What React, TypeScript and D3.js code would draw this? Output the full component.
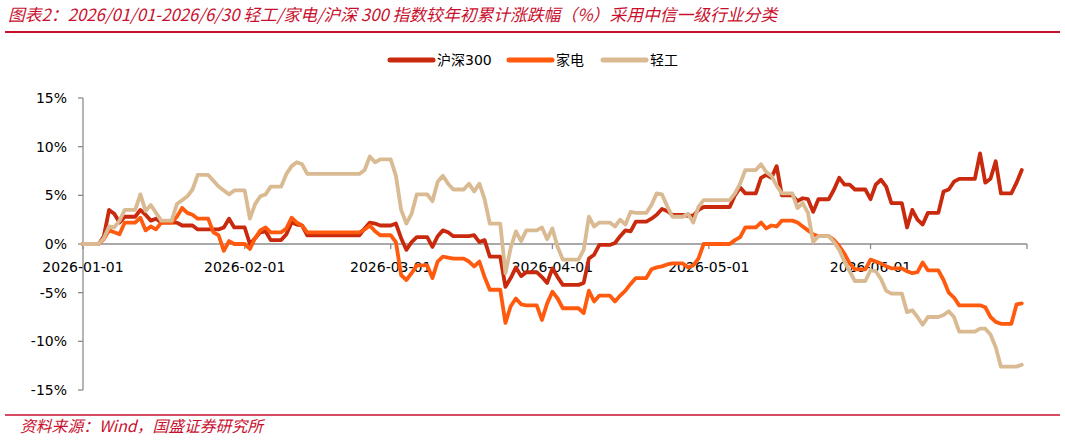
import React from "react";
import * as d3 from "d3";

// Calendar days 2026-01-01 .. 2026-06-30 (non-trading days carry the previous close)
const startDate = new Date(2026, 0, 1);
const endDate = new Date(2026, 6, 1);

const seriesNames = ["沪深300", "家电", "轻工"];
const seriesColors = ["#C9290C", "#FF5A0D", "#D9BA92"];

// 沪深300 cumulative change (%)
const hs300 = [
  // Jan
  0, 0, 0, 0,
  0.8, 3.5, 3.1, 2.2, 2.8, 2.8, 2.8,
  3.5, 3.0, 2.4, 2.6, 2.2, 2.2, 2.2,
  2.2, 1.9, 1.9, 1.9, 1.5, 1.5, 1.5,
  1.5, 1.5, 1.7, 2.6, 1.7, 1.7,
  // Feb
  1.7,
  0.0, 0.6, 1.2, 1.3, 0.4, 0.4, 0.4,
  1.0, 2.2, 2.0, 1.9, 0.9, 0.9, 0.9,
  0.9, 0.9, 0.9, 0.9, 0.9, 0.9, 0.9, 0.9,
  1.6, 2.2, 2.1, 1.9, 1.9,
  // Mar
  1.9,
  2.1, 0.6, -0.6, 0.2, 0.7, 0.7, 0.7,
  -0.3, 0.8, 1.4, 1.2, 0.8, 0.8, 0.8,
  0.8, 0.9, 0.2, 0.4, -1.3, -1.3, -1.3,
  -4.4, -3.5, -2.4, -3.3, -2.9, -2.9, -2.9,
  -3.4, -4.0,
  // Apr
  -2.5, -3.4, -4.2, -4.2, -4.2, -4.2,
  -4.0, -1.5, -1.1, -0.1, -0.1, -0.1,
  0.1, 0.8, 1.4, 1.3, 2.3, 2.3, 2.3,
  2.6, 3.0, 3.6, 3.4, 3.0, 3.0, 3.0,
  2.9, 2.9, 3.5, 3.8,
  // May
  3.8, 3.8, 3.8, 3.8, 3.8,
  5.0, 5.8, 5.2, 5.2, 5.2,
  6.8, 7.1, 6.8, 8.0, 5.0, 5.0, 5.0,
  4.4, 4.7, 4.6, 3.3, 4.6, 4.6, 4.6,
  5.6, 6.8, 6.1, 6.1, 5.6, 5.6, 5.6,
  // Jun
  4.6, 6.1, 6.6, 5.9, 4.2, 4.2, 4.2,
  1.7, 3.5, 2.5, 2.0, 3.2, 3.2, 3.2,
  5.4, 5.6, 6.4, 6.7, 6.7, 6.7, 6.7,
  9.3, 6.3, 6.7, 8.5, 5.2, 5.2, 5.2,
  6.3, 7.6,
];

// 家电 cumulative change (%)
const jiadian = [
  // Jan
  0, 0, 0, 0,
  0.5, 1.4, 1.2, 1.0, 2.2, 2.2, 2.2,
  2.7, 1.4, 1.8, 1.5, 2.2, 2.2, 2.2,
  2.8, 3.7, 3.2, 3.0, 2.6, 2.6, 2.6,
  1.2, 0.9, -0.7, 0.3, 0.0, 0.0,
  // Feb
  0.0,
  -0.5, 0.6, 1.4, 1.7, 1.2, 1.2, 1.2,
  1.6, 2.7, 2.2, 1.9, 1.2, 1.2, 1.2,
  1.2, 1.2, 1.2, 1.2, 1.2, 1.2, 1.2, 1.2,
  1.5, 1.9, 1.3, 0.9, 0.9,
  // Mar
  0.9,
  0.2, -3.2, -3.7, -3.0, -2.2, -2.2, -2.2,
  -3.5, -1.8, -1.3, -1.4, -1.5, -1.5, -1.5,
  -1.8, -2.3, -1.8, -3.4, -4.7, -4.7, -4.7,
  -8.1, -6.4, -5.6, -6.2, -6.3, -6.3, -6.3,
  -7.8, -6.1,
  // Apr
  -4.9, -5.6, -6.6, -6.6, -6.6, -6.6,
  -7.1, -4.8, -5.9, -5.3, -5.3, -5.3,
  -5.9, -5.3, -4.8, -4.1, -3.5, -3.5, -3.5,
  -2.6, -2.4, -2.3, -2.1, -2.0, -2.0, -2.0,
  -2.4, -2.2, -1.5, 0.0,
  // May
  0.0, 0.0, 0.0, 0.0, 0.0,
  0.4, 0.7, 1.7, 1.7, 1.7,
  2.2, 1.6, 1.9, 1.8, 2.4, 2.4, 2.4,
  2.2, 1.8, 1.4, 1.0, 0.8, 0.8, 0.8,
  0.4, -0.2, -1.0, -2.0, -2.6, -2.6, -2.6,
  // Jun
  -1.6, -1.8, -2.0, -2.3, -2.5, -2.5, -2.5,
  -2.8, -3.0, -2.9, -1.9, -2.7, -2.7, -2.7,
  -3.7, -5.0, -5.5, -6.3, -6.3, -6.3, -6.3,
  -6.3, -6.5, -7.5, -8.0, -8.2, -8.2, -8.2,
  -6.2, -6.1,
];

// 轻工 cumulative change (%)
const qinggong = [
  // Jan
  0, 0, 0, 0,
  0.6, 1.8, 1.7, 2.4, 3.5, 3.5, 3.5,
  5.1, 3.4, 4.0, 3.2, 2.4, 2.4, 2.4,
  4.1, 4.5, 4.9, 5.6, 7.1, 7.1, 7.1,
  6.5, 5.9, 5.5, 5.1, 5.5, 5.5,
  // Feb
  5.5,
  2.6, 4.1, 4.9, 5.1, 5.9, 5.9, 5.9,
  7.2, 8.0, 8.4, 8.2, 7.2, 7.2, 7.2,
  7.2, 7.2, 7.2, 7.2, 7.2, 7.2, 7.2, 7.2,
  7.6, 9.0, 8.4, 8.7, 8.7,
  // Mar
  8.7,
  7.0, 3.5, 2.1, 3.1, 5.1, 5.1, 5.1,
  4.4, 6.4, 7.0, 6.2, 5.6, 5.6, 5.6,
  6.2, 5.4, 6.2, 4.6, 2.1, 2.1, 2.1,
  -3.0, -0.4, 1.3, 0.3, 1.4, 1.4, 1.4,
  1.7, 0.5,
  // Apr
  1.6, -0.3, -1.6, -1.6, -1.6, -1.6,
  -0.6, 2.8, 1.8, 2.2, 2.2, 2.2,
  1.8, 2.5, 2.0, 3.3, 3.2, 3.2, 3.2,
  4.0, 5.2, 5.1, 3.9, 2.8, 2.8, 2.8,
  3.1, 2.2, 3.8, 4.5,
  // May
  4.5, 4.5, 4.5, 4.5, 4.5,
  5.2, 6.2, 7.6, 7.6, 7.6,
  8.2, 7.4, 7.0, 6.0, 5.2, 5.2, 5.2,
  3.7, 4.2, 3.2, 0.2, 0.8, 0.8, 0.8,
  0.2, -0.6, -1.8, -2.8, -3.8, -3.8, -3.8,
  // Jun
  -2.7, -2.8, -3.6, -4.8, -5.1, -5.1, -5.1,
  -7.0, -6.8, -7.5, -8.3, -7.5, -7.5, -7.5,
  -7.3, -6.9, -7.5, -9.0, -9.0, -9.0, -9.0,
  -8.7, -8.7, -9.3, -10.6, -12.6, -12.6, -12.6,
  -12.6, -12.4,
];

const yTicks = [-15, -10, -5, 0, 5, 10, 15];

const titleText =
  "图表2：2026/01/01-2026/6/30 轻工/家电/沪深 300 指数较年初累计涨跌幅（%）采用中信一级行业分类";
const sourceText = "资料来源：Wind，国盛证券研究所";

const W = 1065;
const H = 440;
const margin = { left: 83, right: 1027, top: 98, bottom: 390 };

export default function App() {
  const days = d3.timeDay.range(startDate, endDate);
  const x = d3
    .scaleTime()
    .domain([startDate, endDate])
    .range([margin.left, margin.right]);
  const y = d3.scaleLinear().domain([-15, 15]).range([margin.bottom, margin.top]);

  const allSeries = [hs300, jiadian, qinggong];
  const line = d3
    .line<number>()
    .x((_, i) => x(days[i]))
    .y((v) => y(v));

  const monthTicks = d3.timeMonth.range(startDate, d3.timeDay.offset(endDate, 1));
  const labelMonths = d3.timeMonth.range(startDate, endDate);
  const fmt = d3.timeFormat("%Y-%m-%d");

  const axisColor = "#8c8c8c";
  const font = "'DejaVu Sans', 'Noto Sans CJK SC', sans-serif";
  const cjkItalic = "'Noto Sans CJK SC', sans-serif";
  const red = "#C8102E";

  const legendX = [390, 509, 603];

  return (
    <svg
      width={W}
      height={H}
      style={{ position: "absolute", left: 0, top: 0, background: "#fff" }}
    >
      {/* title */}
      <text
        x={8}
        y={21}
        fill={red}
        fontStyle="italic"
        fontFamily={cjkItalic}
        fontSize={16.8}
      >
        {titleText}
      </text>
      <line x1={5} x2={1060} y1={32} y2={32} stroke="#C8102E" strokeWidth={2} />

      {/* legend */}
      {seriesNames.map((name, i) => (
        <g key={name}>
          <line
            x1={legendX[i]}
            x2={legendX[i] + 43}
            y1={60}
            y2={60}
            stroke={seriesColors[i]}
            strokeWidth={5}
            strokeLinecap="round"
          />
          <text
            x={legendX[i] + 47}
            y={60}
            dominantBaseline="central"
            fontFamily={font}
            fontSize={14}
            fill="#000"
          >
            {name}
          </text>
        </g>
      ))}

      {/* y axis */}
      <line
        x1={margin.left}
        x2={margin.left}
        y1={margin.top}
        y2={margin.bottom}
        stroke={axisColor}
        strokeWidth={1.3}
      />
      {yTicks.map((t) => (
        <g key={t}>
          <line
            x1={margin.left - 5}
            x2={margin.left}
            y1={y(t)}
            y2={y(t)}
            stroke={axisColor}
            strokeWidth={1.3}
          />
          <text
            x={67}
            y={y(t)}
            textAnchor="end"
            dominantBaseline="central"
            fontFamily={font}
            fontSize={14}
            fill="#000"
          >
            {t + "%"}
          </text>
        </g>
      ))}

      {/* x axis at 0 */}
      <line
        x1={margin.left}
        x2={margin.right}
        y1={y(0)}
        y2={y(0)}
        stroke={axisColor}
        strokeWidth={1.3}
      />
      {monthTicks.map((d) => (
        <line
          key={+d}
          x1={x(d)}
          x2={x(d)}
          y1={y(0)}
          y2={y(0) + 5}
          stroke={axisColor}
          strokeWidth={1.3}
        />
      ))}
      {labelMonths.map((d) => (
        <text
          key={+d}
          x={x(d)}
          y={y(0) + 23}
          textAnchor="middle"
          dominantBaseline="central"
          fontFamily={font}
          fontSize={14}
          fill="#000"
        >
          {fmt(d)}
        </text>
      ))}

      {/* series */}
      {allSeries.map((s, i) => (
        <path
          key={seriesNames[i]}
          d={line(s) || ""}
          fill="none"
          stroke={seriesColors[i]}
          strokeWidth={3.8}
          strokeLinejoin="round"
          strokeLinecap="round"
        />
      ))}

      {/* footer */}
      <line x1={5} x2={1060} y1={415} y2={415} stroke="#C8102E" strokeWidth={1.5} />
      <text
        x={20}
        y={432}
        fill={red}
        fontStyle="italic"
        fontFamily={cjkItalic}
        fontSize={15.8}
      >
        {sourceText}
      </text>
    </svg>
  );
}
